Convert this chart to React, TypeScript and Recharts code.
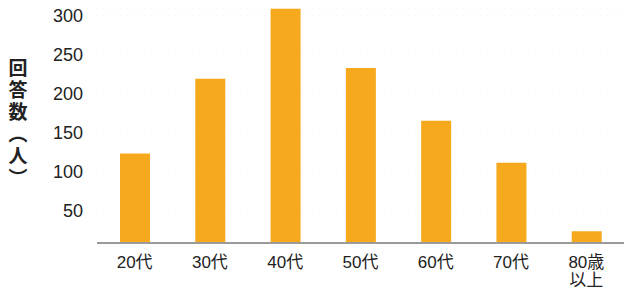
import React from 'react';
import { BarChart, Bar, XAxis, YAxis, CartesianGrid } from 'recharts';

const categories = ['20代', '30代', '40代', '50代', '60代', '70代', '80歳\n以上'];
const respondents = [123, 219, 309, 233, 165, 111, 23];
const yTicks = [50, 100, 150, 200, 250, 300];
const yTitle = '回答数（人）';

const data = categories.map((name, i) => ({ name, value: respondents[i] }));

const FONT = '"Liberation Sans", Arial, "Noto Sans CJK JP", sans-serif';

const XTick = (props: any) => {
  const { x, y, payload } = props;
  const lines = String(payload.value).split('\n');
  return (
    <text x={x} y={y + 17} textAnchor="middle" fill="#222" fontSize={17} fontFamily={FONT}>
      {lines.map((line, i) => (
        <tspan key={i} x={x} dy={i === 0 ? 0 : 18}>
          {line}
        </tspan>
      ))}
    </text>
  );
};

// vertical title written top to bottom
const YTitle = () => (
  <text
    x={18}
    y={58}
    fill="#222"
    fontSize={19}
    fontWeight="bold"
    fontFamily='"Noto Sans CJK JP", sans-serif'
    style={{ writingMode: 'vertical-rl', letterSpacing: 3 }}
  >
    {yTitle}
  </text>
);

const App: React.FC = () => {
  return (
    <div style={{ position: 'absolute', left: 0, top: 0, width: 624, height: 291, background: '#fff' }}>
      <BarChart width={624} height={291} data={data} margin={{ top: 8, right: 0, left: 0, bottom: 0 }} barSize={30}>
        <CartesianGrid vertical={false} stroke="#f2f2f2" strokeDasharray="1 5" />
        <XAxis
          dataKey="name"
          height={48}
          axisLine={{ stroke: '#9a9a9a', strokeWidth: 2 }}
          tickLine={false}
          tick={<XTick />}
          interval={0}
        />
        <YAxis
          width={97}
          domain={[8, 310]}
          ticks={yTicks}
          allowDataOverflow
          axisLine={false}
          tickLine={false}
          tickSize={6}
          tickMargin={8}
          tick={{ fill: '#222', fontSize: 18, fontFamily: FONT }}
          label={<YTitle />}
        />
        <Bar dataKey="value" fill="#F7A91E" isAnimationActive={false} />
      </BarChart>
    </div>
  );
};

export default App;
